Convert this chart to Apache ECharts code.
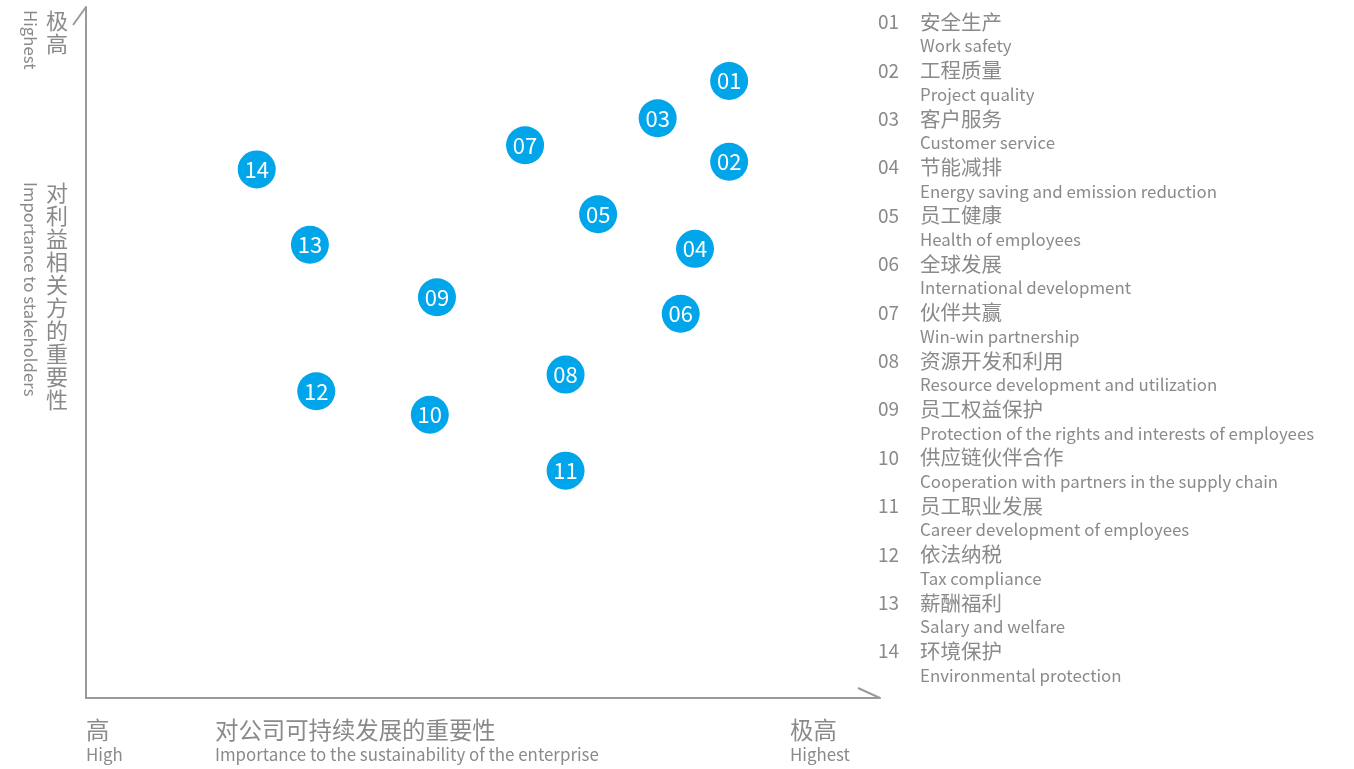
<!DOCTYPE html>
<html>
<head>
<meta charset="utf-8">
<script src="https://cdn.jsdelivr.net/npm/echarts@6/dist/echarts.min.js"></script>
<style>
html,body{margin:0;padding:0;background:#fff;}
#chart{width:1354px;height:769px;}
</style>
</head>
<body>
<div id="chart"></div>
<script>
// ---- data ----
const ids = ['01','02','03','04','05','06','07','08','09','10','11','12','13','14'];
const xValues = [81.0, 81.0, 72.0, 76.7, 64.5, 74.9, 55.3, 60.4, 44.2, 43.3, 60.4, 29.0, 28.2, 21.5];
const yValues = [89.3, 77.6, 83.9, 65.0, 70.0, 55.6, 80.0, 46.8, 58.0, 41.0, 32.9, 44.4, 65.6, 76.5];
const namesCN = ['安全生产','工程质量','客户服务','节能减排','员工健康','全球发展','伙伴共赢','资源开发和利用','员工权益保护','供应链伙伴合作','员工职业发展','依法纳税','薪酬福利','环境保护'];
const namesEN = ['Work safety','Project quality','Customer service','Energy saving and emission reduction','Health of employees','International development','Win-win partnership','Resource development and utilization','Protection of the rights and interests of employees','Cooperation with partners in the supply chain','Career development of employees','Tax compliance','Salary and welfare','Environmental protection'];
const yAxisTitleCN = '对利益相关方的重要性';
const yAxisTitleEN = 'Importance to stakeholders';
const xAxisTitleCN = '对公司可持续发展的重要性';
const xAxisTitleEN = 'Importance to the sustainability of the enterprise';
const lowLabelCN = '高', lowLabelEN = 'High';
const highLabelCN = '极高', highLabelEN = 'Highest';

const FONT = '"Noto Sans CJK SC", "Noto Sans", sans-serif';
const GRAY = '#8a8a8a';
const chart = echarts.init(document.getElementById('chart'));

const points = ids.map((id, i) => ({ value: [xValues[i], yValues[i]], name: id }));

const graphics = [];
// legend list
ids.forEach((id, i) => {
  const y0 = 22 + i * 48.4;
  graphics.push({ type: 'text', x: 878, y: y0, style: { text: id, font: '19px ' + FONT, fill: GRAY, verticalAlign: 'middle', align: 'left' } });
  graphics.push({ type: 'text', x: 920, y: y0, style: { text: namesCN[i], font: '20.5px ' + FONT, fill: GRAY, verticalAlign: 'middle', align: 'left' } });
  graphics.push({ type: 'text', x: 920, y: y0 + 24, style: { text: namesEN[i], font: '16.85px ' + FONT, fill: GRAY, verticalAlign: 'middle', align: 'left' } });
});
// y-axis titles (vertical)
graphics.push({ type: 'text', x: 57, y: 9, style: { text: highLabelCN.split('').join('\n'), font: '22px ' + FONT, lineHeight: 23, fill: GRAY, align: 'center', verticalAlign: 'top' } });
graphics.push({ type: 'text', x: 30, y: 10, rotation: -Math.PI / 2, style: { text: highLabelEN, font: '16.8px ' + FONT, fill: GRAY, align: 'left', verticalAlign: 'middle' } });
graphics.push({ type: 'text', x: 57, y: 181, style: { text: yAxisTitleCN.split('').join('\n'), font: '22px ' + FONT, lineHeight: 23, fill: GRAY, align: 'center', verticalAlign: 'top' } });
graphics.push({ type: 'text', x: 30, y: 182, rotation: -Math.PI / 2, style: { text: yAxisTitleEN, font: '16.8px ' + FONT, fill: GRAY, align: 'left', verticalAlign: 'middle' } });
// x-axis titles
graphics.push({ type: 'text', x: 86, y: 730, style: { text: lowLabelCN, font: '23.4px ' + FONT, fill: GRAY, align: 'left', verticalAlign: 'middle' } });
graphics.push({ type: 'text', x: 86, y: 755, style: { text: lowLabelEN, font: '16.9px ' + FONT, fill: GRAY, align: 'left', verticalAlign: 'middle' } });
graphics.push({ type: 'text', x: 215, y: 730, style: { text: xAxisTitleCN, font: '23.4px ' + FONT, fill: GRAY, align: 'left', verticalAlign: 'middle' } });
graphics.push({ type: 'text', x: 215, y: 755, style: { text: xAxisTitleEN, font: '16.9px ' + FONT, fill: GRAY, align: 'left', verticalAlign: 'middle' } });
graphics.push({ type: 'text', x: 790, y: 730, style: { text: highLabelCN, font: '23.4px ' + FONT, fill: GRAY, align: 'left', verticalAlign: 'middle' } });
graphics.push({ type: 'text', x: 790, y: 755, style: { text: highLabelEN, font: '16.9px ' + FONT, fill: GRAY, align: 'left', verticalAlign: 'middle' } });

const axisCommon = {
  type: 'value', min: 0, max: 100,
  axisLine: { show: true, lineStyle: { color: '#9a9a9a', width: 2 } },
  axisTick: { show: false }, axisLabel: { show: false }, splitLine: { show: false }
};

chart.setOption({
  animation: false,
  backgroundColor: '#ffffff',
  grid: { left: 86, right: 474, top: 7, bottom: 71 },
  xAxis: axisCommon,
  yAxis: axisCommon,
  graphic: graphics,
  series: [{
    type: 'scatter',
    data: points,
    symbolSize: 38,
    itemStyle: { color: '#00A5EA', opacity: 1 },
    label: { show: true, position: 'inside', formatter: p => p.name, color: '#fff', fontSize: 22, fontFamily: FONT }
  }]
});

// half-arrow ticks at axis ends
const yEnd = chart.convertToPixel({ gridIndex: 0 }, [0, 100]);
const xEnd = chart.convertToPixel({ gridIndex: 0 }, [100, 0]);
chart.setOption({
  graphic: graphics.concat([
    { type: 'line', shape: { x1: yEnd[0], y1: yEnd[1], x2: yEnd[0] - 13, y2: yEnd[1] + 18 }, style: { stroke: '#9a9a9a', lineWidth: 2 } },
    { type: 'line', shape: { x1: xEnd[0], y1: xEnd[1], x2: xEnd[0] - 22, y2: xEnd[1] - 10 }, style: { stroke: '#9a9a9a', lineWidth: 2 } }
  ])
});
</script>
</body>
</html>
